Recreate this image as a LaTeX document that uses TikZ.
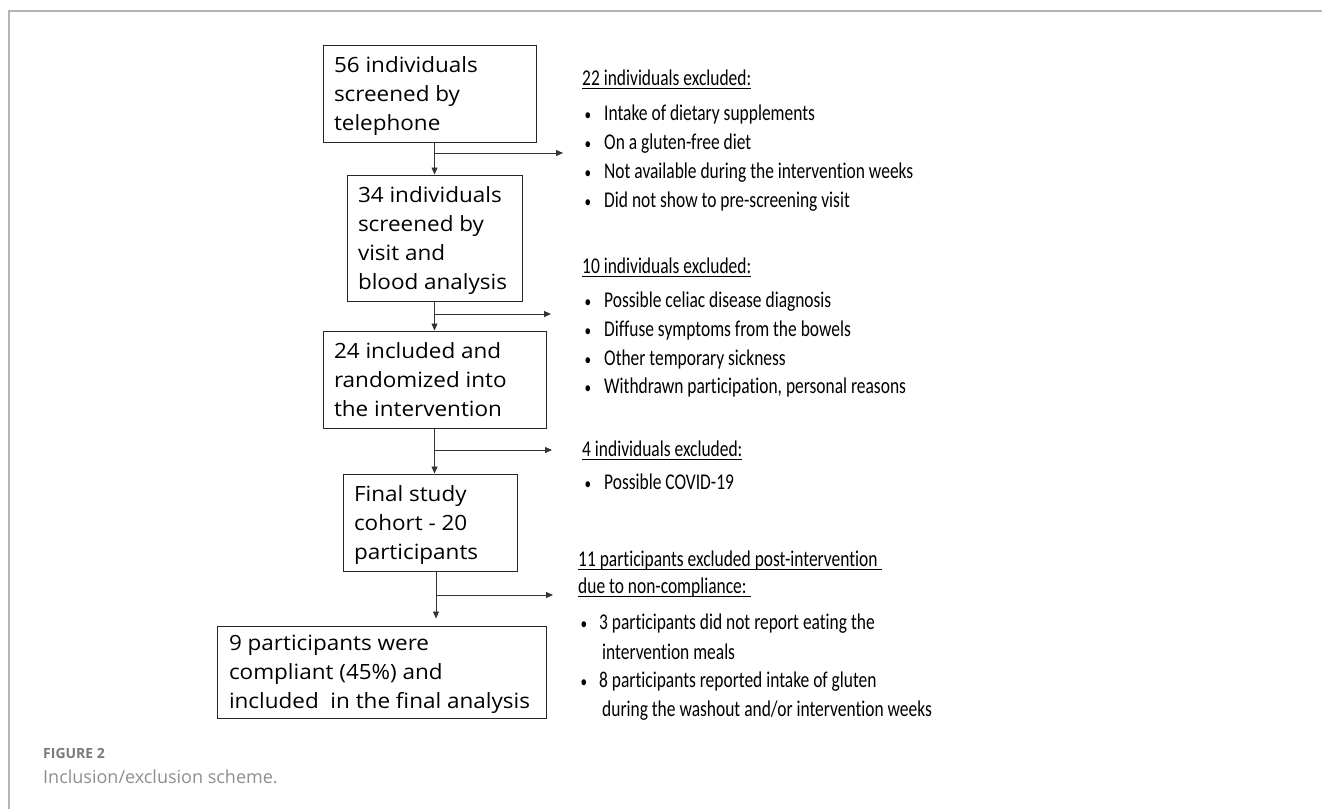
\documentclass[tikz,border=0pt]{standalone}
\usepackage{fontspec}
\setmainfont{Carlito}
\newfontfamily\boxfont[FakeStretch=1.07]{Open Sans}
\newfontfamily\sidefont[FakeStretch=0.775,Ligatures=NoCommon]{Carlito}
\newfontfamily\capfont{Open Sans}
\usetikzlibrary{arrows.meta}
\definecolor{framegray}{HTML}{B4B4B4}
\definecolor{capgray}{HTML}{7A7A7A}
\definecolor{linegray}{HTML}{333333}
\newcommand\boxlines[2]{\raisebox{-2pt}[\height][\depth]{\makebox[#1][l]{\begin{tabular}{@{}l@{}}#2\end{tabular}}}}
\newcommand\ulbox[1]{\setbox0\hbox{#1}\rlap{\rule[-4pt]{\wd0}{1pt}}\box0}
\newcommand\bul[1]{\makebox[#1][l]{\hspace{0.5pt}{\fontsize{17}{17}\selectfont\textbullet}}}
\begin{document}
\begin{tikzpicture}[x=1pt,y=-1pt,
  flowbox/.style={draw=black!85, line width=1pt, inner xsep=11pt, inner ysep=0pt,
    font=\boxfont\fontsize{21}{29}\selectfont},
  arr/.style={draw=linegray, line width=0.8pt, -{Triangle[length=7pt,width=6pt]}},
  sidetext/.style={anchor=base west, inner sep=0pt, font=\sidefont\fontsize{22.5}{29}\selectfont},
  capline/.style={anchor=base west, inner sep=0pt}]
\useasboundingbox (0,0) rectangle (1322,809);
% frame
\draw[framegray, line width=1.5pt] (9,809) -- (9,11) -- (1322,11);

% boxes
\node[flowbox, minimum width=213pt, minimum height=97pt] (b1) at (429.5,93.5)
  {\boxlines{191pt}{56 individuals\\screened by\\telephone}};
\node[flowbox, minimum width=175pt, minimum height=126pt] (b2) at (434.5,238)
  {\boxlines{153pt}{34 individuals\\screened by\\visit and\\blood analysis}};
\node[flowbox, minimum width=223pt, minimum height=97pt] (b3) at (434.5,379.5)
  {\boxlines{201pt}{24 included and\\randomized into\\the intervention}};
\node[flowbox, minimum width=174pt, minimum height=97pt] (b4) at (430,522.5)
  {\boxlines{152pt}{Final study\\cohort - 20\\participants}};
\node[flowbox, minimum width=329pt, minimum height=92pt, inner xsep=12pt] (b5) at (381.5,672)
  {\boxlines{305pt}{9 participants were\\compliant (45\%) and\\included\ \ in the final analysis}};

% vertical connectors
\draw[arr] (b1.south -| b2.north) -- (b2.north);
\draw[arr] (b2.south) -- (b3.north);
\draw[arr] (b3.south) -- (b3.south |- b4.north);
\coordinate (v4) at (436,571);
\draw[arr, shorten >=7pt] (v4) -- (v4 |- b5.north);

% side connectors
\coordinate (s1) at (434.5,153); \coordinate (e1) at (563,153);
\coordinate (s2) at (434.5,314); \coordinate (e2) at (551,314);
\coordinate (s3) at (434.5,450); \coordinate (e3) at (552,450);
\coordinate (s4) at (436,595);   \coordinate (e4) at (553,595);
\draw[arr] (s1) -- (e1);
\draw[arr] (s2) -- (e2);
\draw[arr] (s3) -- (e3);
\draw[arr] (s4) -- (e4);

% group 1
\node[sidetext] (h1) at (582,85) {\ulbox{22 individuals excluded:}};
\node[sidetext] (g1a) at (584,120) {\bul{20pt}Intake of dietary supplements};
\node[sidetext] (g1b) at (584,149) {\bul{20pt}On a gluten-free diet};
\node[sidetext] (g1c) at (584,178) {\bul{20pt}Not available during the intervention weeks};
\node[sidetext] (g1d) at (584,207) {\bul{20pt}Did not show to pre-screening visit};
% group 2
\node[sidetext] (h2) at (582,273) {\ulbox{10 individuals excluded:}};
\node[sidetext] (g2a) at (584,307) {\bul{20pt}Possible celiac disease diagnosis};
\node[sidetext] (g2b) at (584,336) {\bul{20pt}Diffuse symptoms from the bowels};
\node[sidetext] (g2c) at (584,365) {\bul{20pt}Other temporary sickness};
\node[sidetext] (g2d) at (584,393) {\bul{20pt}Withdrawn participation, personal reasons};
% group 3
\node[sidetext] (h3) at (582,456) {\ulbox{4 individuals excluded:}};
\node[sidetext] (g3a) at (584,489) {\bul{20pt}Possible COVID-19};
% group 4
\node[sidetext] (h4a) at (578,566) {\ulbox{11 participants excluded post-intervention\ }};
\node[sidetext] (h4b) at (578,593) {\ulbox{due to non-compliance:\ }};
\node[sidetext] (g4a) at (580,629) {\bul{19pt}3 participants did not report eating the};
\node[sidetext] (g4b) at (602,659) {intervention meals};
\node[sidetext] (g4c) at (580,687) {\bul{19pt}8 participants reported intake of gluten};
\node[sidetext] (g4d) at (602,716) {during the washout and/or intervention weeks};

% caption
\node[capline, font=\capfont\bfseries\fontsize{14}{16}\selectfont, text=capgray] (fig) at (43,758) {FIGURE 2};
\node[capline, font=\capfont\fontsize{18}{20}\selectfont, text=capgray!85] (cap) at (43,783) {Inclusion/exclusion scheme.};
\end{tikzpicture}
\end{document}
